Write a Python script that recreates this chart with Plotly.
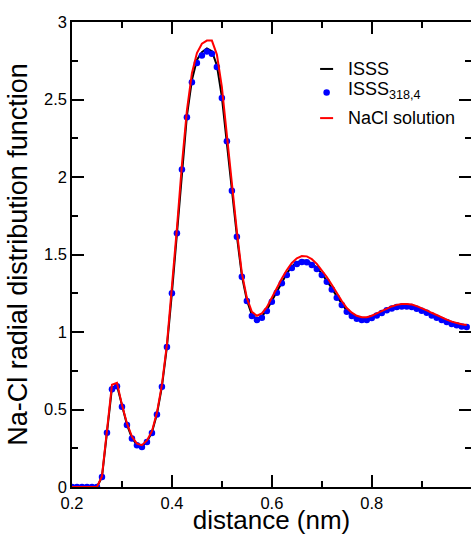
import plotly.graph_objects as go

# distance grid (nm)
r = [round(0.20 + 0.01 * i, 2) for i in range(80)]

# subsampled ISSS_318,4 points
g_isss_sub = [
    0, 0, 0, 0, 0, 0, 0.065, 0.35, 0.63, 0.65,
    0.517, 0.40, 0.313, 0.27, 0.258, 0.29, 0.349, 0.468, 0.646, 0.904,
    1.25, 1.637, 2.048, 2.386, 2.612, 2.735, 2.784, 2.81, 2.795, 2.709,
    2.509, 2.231, 1.912, 1.615, 1.357, 1.2, 1.103, 1.077, 1.092, 1.135,
    1.195, 1.253, 1.314, 1.368, 1.413, 1.439, 1.452, 1.45, 1.432, 1.406,
    1.368, 1.324, 1.275, 1.221, 1.174, 1.13, 1.103, 1.086, 1.077, 1.077,
    1.09, 1.107, 1.122, 1.14, 1.152, 1.161, 1.165, 1.165, 1.161, 1.15,
    1.137, 1.124, 1.107, 1.092, 1.077, 1.064, 1.051, 1.043, 1.036, 1.032,
]

# full ISSS curve
g_isss = [
    0, 0, 0, 0, 0, 0, 0.065, 0.35, 0.64, 0.655,
    0.52, 0.402, 0.316, 0.272, 0.262, 0.292, 0.352, 0.47, 0.648, 0.906,
    1.252, 1.64, 2.052, 2.395, 2.625, 2.755, 2.805, 2.83, 2.812, 2.72,
    2.515, 2.237, 1.918, 1.62, 1.362, 1.205, 1.11, 1.085, 1.1, 1.143,
    1.203, 1.262, 1.323, 1.378, 1.423, 1.449, 1.462, 1.46, 1.442, 1.415,
    1.377, 1.332, 1.283, 1.229, 1.181, 1.137, 1.109, 1.092, 1.083, 1.082,
    1.095, 1.112, 1.127, 1.145, 1.158, 1.167, 1.171, 1.171, 1.167, 1.156,
    1.143, 1.129, 1.112, 1.097, 1.082, 1.069, 1.056, 1.047, 1.04, 1.036,
]

# NaCl solution reference curve
g_nacl = [
    0, 0, 0, 0, 0, 0, 0.07, 0.36, 0.66, 0.672,
    0.53, 0.41, 0.325, 0.28, 0.27, 0.30, 0.36, 0.48, 0.66, 0.92,
    1.27, 1.67, 2.08, 2.43, 2.67, 2.80, 2.86, 2.88, 2.88, 2.79,
    2.58, 2.29, 1.96, 1.65, 1.38, 1.22, 1.13, 1.105, 1.12, 1.16,
    1.225, 1.285, 1.345, 1.40, 1.445, 1.475, 1.49, 1.488, 1.47, 1.44,
    1.40, 1.355, 1.305, 1.25, 1.20, 1.155, 1.125, 1.105, 1.095, 1.095,
    1.105, 1.12, 1.135, 1.152, 1.165, 1.175, 1.18, 1.18, 1.177, 1.167,
    1.155, 1.14, 1.124, 1.108, 1.093, 1.08, 1.067, 1.057, 1.05, 1.045,
]

legend_labels = ["ISSS", "ISSS<sub>318,4</sub>", "NaCl solution"]

FONT = "Liberation Sans, Arial, sans-serif"
X_RANGE = [0.2, 0.9986]
Y_RANGE = [0, 3]

fig = go.Figure()
fig.add_trace(go.Scatter(x=r, y=g_isss, mode="lines",
                         line=dict(color="black", width=2), showlegend=False))
fig.add_trace(go.Scatter(x=r, y=g_isss_sub, mode="markers",
                         marker=dict(color="#0000ff", size=6.5), showlegend=False))
fig.add_trace(go.Scatter(x=r, y=g_nacl, mode="lines",
                         line=dict(color="#ff0000", width=2), showlegend=False))
# carrier for the right-hand tick axis
fig.add_trace(go.Scatter(x=[0.2], y=[0], yaxis="y2", mode="markers",
                         marker=dict(opacity=0), hoverinfo="skip", showlegend=False))

# hand-placed legend in data coordinates
lx0, lx1, ltxt = 0.6966, 0.7226, 0.7486
ly = [2.697, 2.56, 2.38]
fig.add_shape(type="line", x0=lx0, x1=lx1, y0=ly[0], y1=ly[0],
              line=dict(color="black", width=2))
fig.add_trace(go.Scatter(x=[(lx0 + lx1) / 2], y=[2.545], mode="markers",
                         marker=dict(color="#0000ff", size=6.5),
                         hoverinfo="skip", showlegend=False))
fig.add_shape(type="line", x0=lx0, x1=lx1, y0=ly[2], y1=ly[2],
              line=dict(color="#ff0000", width=2))
for lab, yy in zip(legend_labels, ly):
    fig.add_annotation(x=ltxt, y=yy, text=lab, showarrow=False,
                       xanchor="left", yanchor="middle",
                       font=dict(family=FONT, size=18, color="black"))

axis_common = dict(showgrid=False, zeroline=False, ticks="inside",
                   tickcolor="black", tickwidth=1.5, linecolor="black",
                   linewidth=1.5, tickfont=dict(family=FONT, size=16.5, color="black"))

fig.update_layout(
    width=471, height=535,
    margin=dict(l=72, r=0, t=22, b=48, pad=0),
    paper_bgcolor="white", plot_bgcolor="white",
    xaxis=dict(range=X_RANGE, dtick=0.2, tick0=0.2, ticklen=12,
               showline=True, mirror="ticks",
               minor=dict(dtick=0.1, tick0=0.2, ticklen=6, ticks="inside",
                          tickcolor="black", tickwidth=1.5),
               title=dict(text="distance (nm)", standoff=7,
                          font=dict(family=FONT, size=26, color="black")),
               automargin=False, **axis_common),
    yaxis=dict(range=Y_RANGE, dtick=0.5, tick0=0, ticklen=12,
               showline=True, mirror=False,
               tickvals=[0, 0.5, 1, 1.5, 2, 2.5, 3],
               ticktext=["0", "0.5", "1", "1.5", "2", "2.5", "3"],
               minor=dict(dtick=0.25, tick0=0, ticklen=6, ticks="inside",
                          tickcolor="black", tickwidth=1.5),
               title=dict(text="Na-Cl radial distribution function", standoff=9,
                          font=dict(family=FONT, size=27, color="black")),
               automargin=False, **axis_common),
    yaxis2=dict(range=Y_RANGE, overlaying="y", side="right", anchor="x",
                showgrid=False, zeroline=False, showline=False,
                showticklabels=False, ticks="inside", ticklen=12,
                tickcolor="black", tickwidth=1.5, dtick=0.5, tick0=0,
                minor=dict(dtick=0.25, tick0=0, ticklen=6, ticks="inside",
                           tickcolor="black", tickwidth=1.5)),
)

fig.write_html("out.html")
